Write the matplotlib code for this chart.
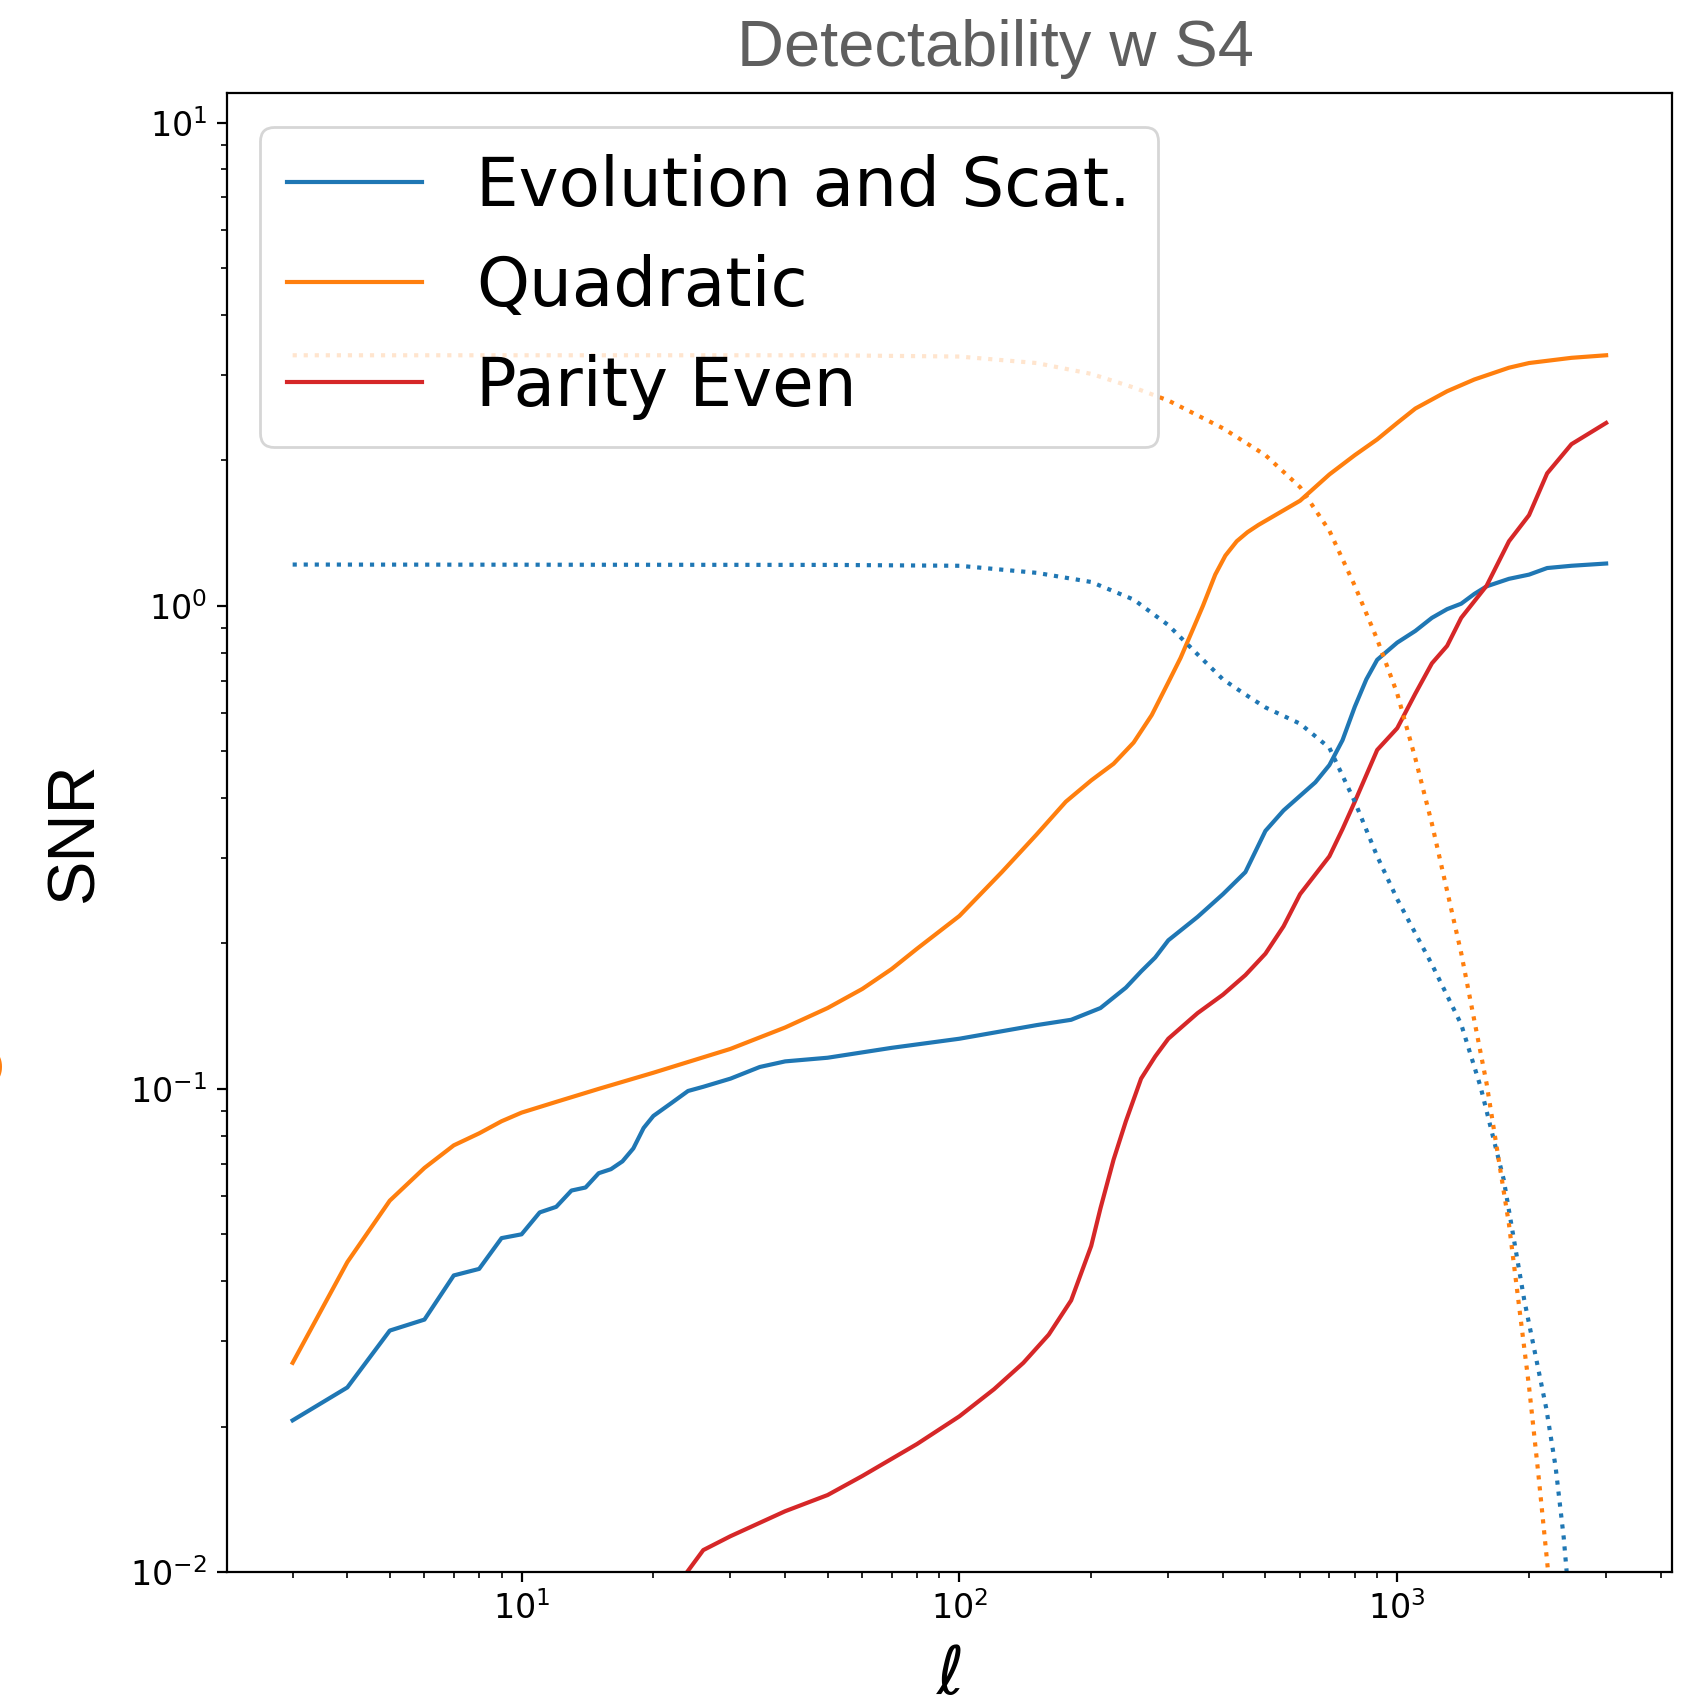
import numpy as np
import matplotlib
matplotlib.use("Agg")
import matplotlib.pyplot as plt

# --- data ---
ell_evo = [3, 4, 5, 6, 7, 8, 9, 10, 11, 12, 13, 14, 15, 16, 17, 18, 19, 20, 22, 24, 26,
           30, 35, 40, 50, 70, 100, 150, 180, 210, 240, 260, 280, 300, 350, 400, 450,
           500, 550, 650, 700, 750, 800, 850, 900, 1000, 1100, 1200, 1300, 1400, 1500,
           1600, 1800, 2000, 2200, 2500, 3000]
snr_evo = [0.0206, 0.0241, 0.0316, 0.0333, 0.0411, 0.0424, 0.0491, 0.050, 0.0555, 0.057,
           0.0616, 0.0625, 0.0669, 0.0682, 0.0708, 0.0753, 0.083, 0.0879, 0.0935, 0.099,
           0.101, 0.105, 0.111, 0.114, 0.116, 0.1216, 0.127, 0.1355, 0.139, 0.147, 0.162,
           0.175, 0.187, 0.203, 0.227, 0.253, 0.281, 0.342, 0.377, 0.431, 0.468, 0.527,
           0.618, 0.704, 0.773, 0.839, 0.887, 0.944, 0.984, 1.01, 1.058, 1.097, 1.137,
           1.16, 1.197, 1.21, 1.223]

ell_evo_cum = [3, 50, 100, 150, 200, 250, 300, 350, 400, 450, 500, 600, 700, 800, 900,
               1000, 1200, 1400, 1550, 1750, 1950, 2190, 2300, 2400, 2450]
snr_evo_cum = [1.217, 1.215, 1.21, 1.17, 1.12, 1.03, 0.912, 0.793, 0.704, 0.655, 0.616,
               0.570, 0.508, 0.393, 0.303, 0.247, 0.181, 0.136, 0.101, 0.065, 0.0366,
               0.0218, 0.0165, 0.0118, 0.0095]

ell_quad = [3, 4, 5, 6, 7, 8, 9, 10, 12, 15, 20, 30, 40, 50, 60, 70, 80, 100, 125, 150,
            175, 200, 225, 250, 275, 300, 320, 342, 360, 384, 405, 430, 455, 482, 520,
            600, 700, 800, 900, 1000, 1100, 1300, 1500, 1800, 2000, 2500, 3000]
snr_quad = [0.0271, 0.0438, 0.0587, 0.0686, 0.0764, 0.0809, 0.0857, 0.0893, 0.094, 0.100,
            0.108, 0.121, 0.134, 0.147, 0.161, 0.177, 0.195, 0.228, 0.281, 0.336, 0.393,
            0.435, 0.471, 0.521, 0.594, 0.694, 0.78, 0.897, 1.0, 1.16, 1.27, 1.36, 1.42,
            1.47, 1.53, 1.65, 1.87, 2.05, 2.21, 2.39, 2.56, 2.78, 2.94, 3.11, 3.18, 3.26,
            3.30]

ell_quad_cum = [3, 50, 100, 150, 200, 250, 300, 400, 500, 600, 700, 800, 900, 1000, 1100,
                1200, 1400, 1600, 1800, 2000, 2100, 2200, 2250]
snr_quad_cum = [3.30, 3.30, 3.28, 3.18, 3.02, 2.83, 2.66, 2.33, 2.05, 1.76, 1.43, 1.10,
                0.852, 0.658, 0.483, 0.354, 0.191, 0.1026, 0.0524, 0.0242, 0.016, 0.0105,
                0.0085]

ell_par = [23.5, 26, 30, 40, 50, 60, 80, 100, 120, 140, 160, 180, 200, 210, 225, 240, 260,
           280, 300, 350, 400, 450, 500, 550, 600, 700, 750, 800, 900, 1000, 1100, 1200,
           1300, 1400, 1600, 1800, 2000, 2200, 2500, 3000]
snr_par = [0.0098, 0.0111, 0.01186, 0.01336, 0.01443, 0.0158, 0.0184, 0.0210, 0.0239,
           0.0271, 0.031, 0.0365, 0.0473, 0.0566, 0.0714, 0.0857, 0.105, 0.1167, 0.127,
           0.1435, 0.1567, 0.172, 0.1905, 0.217, 0.253, 0.303, 0.345, 0.393, 0.503, 0.558,
           0.658, 0.760, 0.826, 0.944, 1.10, 1.36, 1.54, 1.88, 2.16, 2.39]

labels = ["Evolution and Scat.", "Quadratic", "Parity Even"]
c_blue, c_orange, c_red = "#1f77b4", "#ff7f0e", "#d62728"

fig = plt.figure(figsize=(8.505, 8.5), dpi=200)
ax = fig.add_axes([0.1333, 0.0753, 0.8495, 0.8698])

ax.plot(ell_evo, snr_evo, color=c_blue, lw=1.5, label=labels[0])
ax.plot(ell_quad, snr_quad, color=c_orange, lw=1.5, label=labels[1])
ax.plot(ell_par, snr_par, color=c_red, lw=1.5, label=labels[2])
ax.plot(ell_evo_cum, snr_evo_cum, color=c_blue, lw=1.5, ls=":")
ax.plot(ell_quad_cum, snr_quad_cum, color=c_orange, lw=1.5, ls=":")

ax.set_xscale("log")
ax.set_yscale("log")
ax.set_xlim(10**0.3266, 10**3.627)
ax.set_ylim(1e-2, 11.5)
ax.tick_params(labelsize=12)

ax.legend(loc="upper left", fontsize=24.3)

ax.set_ylabel("SNR", fontsize=24, family="Liberation Sans")
ax.yaxis.set_label_coords(-0.083, 0.5)
ax.set_xlabel(r"$\ell$", fontsize=24)
ax.xaxis.set_label_coords(0.5, -0.07)
ax.xaxis.label.set_va("center")

fig.text(0.5855, 0.971, "Detectability w S4", fontsize=23.4, color="#5f5f5f",
         family="Liberation Sans", ha="center", va="center")
# stray orange glyph clipped at the left edge
fig.text(-0.012, 0.375, "O", fontsize=24, color=c_orange, rotation=90,
         ha="center", va="center")

fig.savefig("out.png", dpi=200)
